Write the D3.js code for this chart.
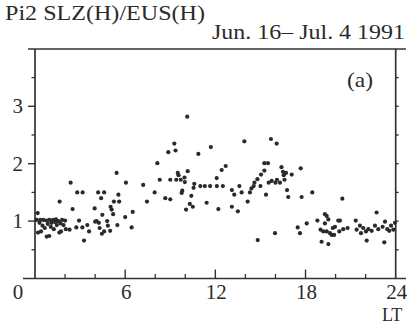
<!DOCTYPE html>
<html>
<head>
<meta charset="utf-8">
<script src="https://cdn.jsdelivr.net/npm/d3@7"></script>
<style>
  html, body { margin: 0; padding: 0; background: #fff; }
  svg { display: block; }
  text { font-family: "Liberation Serif", "DejaVu Serif", serif; fill: #2b2b2b; }
</style>
</head>
<body>
<svg id="chart" width="407" height="325"></svg>
<script>
// Pi2 amplitude ratio SLZ(H)/EUS(H) versus local time
const localTime = [
  0.10, 0.18, 0.20, 0.30, 0.35, 0.40, 0.50, 0.55, 0.65, 0.75, 0.78, 0.85, 0.95, 0.95,
  1.05, 1.10, 1.20, 1.25, 1.35, 1.40, 1.45, 1.55, 1.62, 1.64, 1.70, 1.73, 1.80, 1.90,
  2.00, 2.05, 2.30, 2.37, 2.50, 2.75, 2.81, 2.93, 3.15, 3.17, 3.26, 3.48, 3.60, 3.97,
  4.00, 4.10, 4.20, 4.25, 4.30, 4.40, 4.45, 4.48, 4.60, 4.60, 4.80, 4.85, 5.03, 5.00,
  5.10, 5.20, 5.25, 5.43, 5.48, 5.55, 5.60, 6.00, 6.05, 6.43, 6.50, 7.20, 7.45, 7.96,
  8.14, 8.30, 8.67, 8.87, 9.00, 9.00, 9.27, 9.35, 9.40, 9.50, 9.55, 9.70, 9.76, 9.80,
  9.95, 9.97, 10.05, 10.13, 10.16, 10.30, 10.40, 10.50, 10.55, 10.60, 10.87, 11.00,
  11.30, 11.42, 11.65, 11.70, 12.09, 12.10, 12.20, 12.42, 12.50, 12.69, 13.10, 13.10,
  13.26, 13.50, 13.60, 13.75, 13.93, 14.15, 14.30, 14.40, 14.55, 14.60, 14.80, 14.82,
  15.00, 15.04, 15.26, 15.26, 15.37, 15.50, 15.55, 15.70, 15.75, 15.97, 16.00, 16.08,
  16.10, 16.30, 16.40, 16.50, 16.55, 16.60, 16.70, 16.77, 16.85, 17.08, 17.48, 17.63,
  17.68, 17.74, 18.08, 18.45, 18.79, 19.00, 19.07, 19.18, 19.29, 19.29, 19.41, 19.41,
  19.52, 19.52, 19.63, 19.74, 19.81, 19.90, 19.96, 20.18, 20.25, 20.29, 20.45, 20.51,
  20.80, 21.34, 21.40, 21.62, 21.69, 21.84, 22.02, 22.07, 22.18, 22.40, 22.62, 22.73,
  22.84, 23.13, 23.24, 23.29, 23.44, 23.57, 23.69, 23.84, 23.95
];
const ratio = [
  1.02, 1.14, 0.80, 0.97, 1.02, 0.82, 0.92, 1.02, 0.88, 1.01, 0.73, 0.95, 0.74, 1.02,
  0.90, 0.97, 1.02, 0.86, 0.98, 1.03, 0.93, 1.00, 0.80, 1.34, 0.96, 0.82, 1.02, 0.93,
  1.01, 0.86, 0.85, 1.67, 1.21, 0.89, 1.50, 1.01, 0.89, 1.50, 0.66, 0.93, 0.82, 1.22,
  0.99, 1.00, 1.50, 0.97, 0.88, 1.40, 0.78, 1.11, 1.50, 0.82, 1.00, 0.92, 1.25, 0.83,
  1.20, 1.12, 1.34, 1.84, 0.93, 1.46, 1.34, 1.07, 1.67, 0.89, 1.16, 1.63, 1.34, 1.50,
  2.01, 1.72, 1.40, 2.20, 1.38, 1.72, 2.35, 2.23, 1.72, 1.84, 1.80, 1.72, 1.49, 1.53,
  1.76, 1.68, 1.20, 2.82, 1.87, 1.30, 1.44, 1.25, 1.58, 1.65, 2.17, 1.61,
  1.61, 1.32, 1.61, 2.29, 1.75, 1.61, 1.21, 1.89, 1.61, 1.96, 1.54, 1.25,
  1.46, 1.17, 1.61, 1.50, 2.39, 1.34, 1.50, 1.57, 1.61, 1.67, 1.73, 0.67,
  1.61, 1.81, 1.88, 2.01, 1.46, 2.01, 1.67, 2.43, 1.70, 0.79, 1.67, 2.35,
  1.72, 1.67, 1.94, 1.86, 1.80, 1.72, 1.84, 1.54, 1.42, 1.81, 0.89, 0.79,
  1.92, 1.42, 0.96, 1.50, 1.01, 0.85, 0.64, 0.82, 1.12, 0.96, 1.09, 0.82,
  1.03, 0.60, 0.79, 0.76, 0.88, 0.76, 0.90, 1.01, 0.82, 1.01, 1.39, 0.86,
  0.88, 1.01, 0.85, 0.92, 0.79, 0.88, 0.82, 0.66, 0.86, 0.83, 0.92, 1.15,
  0.86, 0.90, 0.63, 0.99, 0.86, 0.83, 0.92, 0.85, 0.97
];

const xLabelTicks = [6, 12, 18, 24];
const xMinorTicks = [2, 4, 8, 10, 14, 16, 20, 22];
const yLabelTicks = [1, 2, 3];
const yMinorTicks = [0.5, 1.5, 2.5, 3.5];
const titleText = "Pi2 SLZ(H)/EUS(H)";
const periodText = "Jun. 16\u2013 Jul. 4 1991";
const panelText = "(a)";
const xAxisText = "LT";

const svg = d3.select("#chart");
const ink = "#333";

const x = d3.scaleLinear().domain([0, 24]).range([35, 395.7]);
const y = d3.scaleLinear().domain([0, 4]).range([278.5, 48.9]);

const frame = svg.append("g").attr("stroke", ink).attr("stroke-width", 1.7).attr("fill", "none");
// top and bottom rules run past the frame to the right edge
frame.append("line").attr("x1", 28).attr("x2", 406).attr("y1", y(4)).attr("y2", y(4)).attr("stroke-width", 1.5);
frame.append("line").attr("x1", 23).attr("x2", 406).attr("y1", y(0)).attr("y2", y(0));
frame.append("line").attr("x1", x(0)).attr("x2", x(0)).attr("y1", y(4)).attr("y2", y(0));
frame.append("line").attr("x1", x(24)).attr("x2", x(24)).attr("y1", y(4)).attr("y2", y(0));

// left ticks point outward, right ticks small and outward
yLabelTicks.forEach(v => frame.append("line").attr("x1", x(0) - 7).attr("x2", x(0)).attr("y1", y(v)).attr("y2", y(v)).attr("stroke-width", 1.4));
yMinorTicks.forEach(v => frame.append("line").attr("x1", x(0) - 3.5).attr("x2", x(0)).attr("y1", y(v)).attr("y2", y(v)).attr("stroke-width", 1.3));
yLabelTicks.concat(yMinorTicks).forEach(v => frame.append("line").attr("x1", x(24)).attr("x2", x(24) + 3).attr("y1", y(v)).attr("y2", y(v)).attr("stroke-width", 1.3));

// bottom ticks point into the plot
xLabelTicks.filter(h => h < 24).forEach(h => frame.append("line").attr("x1", x(h)).attr("x2", x(h)).attr("y1", y(0)).attr("y2", y(0) - 9).attr("stroke-width", 1.4));
xMinorTicks.forEach(h => frame.append("line").attr("x1", x(h)).attr("x2", x(h)).attr("y1", y(0)).attr("y2", y(0) - 4.5).attr("stroke-width", 1.3));

// tick labels
const labels = svg.append("g").attr("font-size", 21);
yLabelTicks.forEach(v => labels.append("text").attr("x", 23).attr("y", y(v)).attr("dy", "0.34em").attr("text-anchor", "end").text(v));
labels.append("text").attr("x", 18).attr("y", 299).attr("text-anchor", "middle").text(0);
xLabelTicks.forEach(h => labels.append("text").attr("x", x(h) + 1).attr("y", 299).attr("text-anchor", "middle").text(h));
labels.append("text").attr("x", 382).attr("y", 321).attr("font-size", 18).text(xAxisText);

// headings
svg.append("text").attr("x", 5).attr("y", 20).attr("font-size", 21)
  .attr("textLength", 200).attr("lengthAdjust", "spacingAndGlyphs").text(titleText);
svg.append("text").attr("x", 212).attr("y", 39).attr("font-size", 21)
  .attr("textLength", 193).attr("lengthAdjust", "spacingAndGlyphs").text(periodText);
svg.append("text").attr("x", 347).attr("y", 87).attr("font-size", 21)
  .attr("textLength", 26).attr("lengthAdjust", "spacingAndGlyphs").text(panelText);

// data points
svg.append("g").attr("fill", "#2a2a2a")
  .selectAll("circle")
  .data(localTime.map((t, i) => [t, ratio[i]]))
  .join("circle")
  .attr("cx", d => x(d[0]))
  .attr("cy", d => y(d[1]))
  .attr("r", 2.1);
</script>
</body>
</html>
